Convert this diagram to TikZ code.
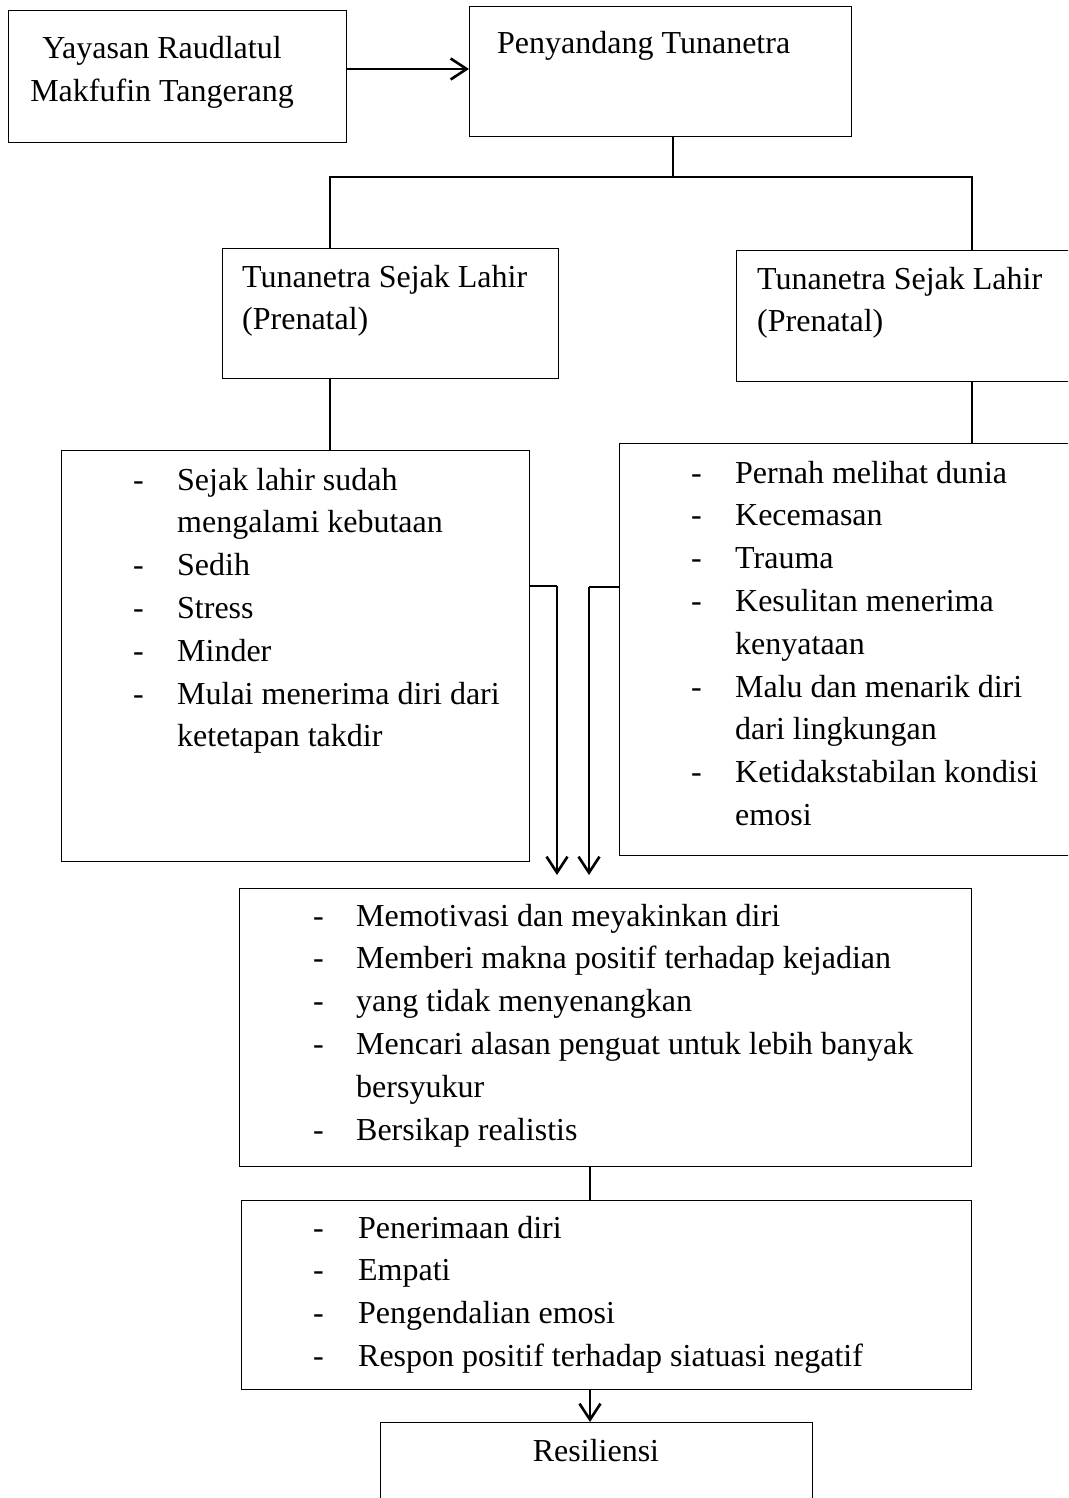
\documentclass[tikz,border=0pt]{standalone}
\usepackage{fontspec}
\setmainfont{Liberation Serif}
\usetikzlibrary{arrows.meta}

\tikzset{
  box/.style={draw, line width=1.3pt, anchor=north west, inner sep=0pt},
  txt/.style={inner sep=0pt, font=\fontsize{32}{42.8}\selectfont},
  link/.style={line width=1.6pt},
  arr/.style={line width=2.6pt, -{Straight Barb[length=16pt,width=21pt,line width=2.6pt]}}
}

\begin{document}
\begin{tikzpicture}[x=1pt,y=-1pt]
    \clip (0,0) rectangle (1068,1498);
    % boxes
    \node[box, minimum width=338, minimum height=132] (b1) at (8,10) {};
    \node[box, minimum width=382, minimum height=130] (b2) at (469,6) {};
    \node[box, minimum width=336, minimum height=130] (b3) at (222,248) {};
    \node[box, minimum width=364, minimum height=131] (b4) at (736,250) {};
    \node[box, minimum width=468, minimum height=411] (b5) at (61,450) {};
    \node[box, minimum width=481, minimum height=412] (b6) at (619,443) {};
    \node[box, minimum width=732, minimum height=278] (b7) at (239,888) {};
    \node[box, minimum width=730, minimum height=189] (b8) at (241,1200) {};
    \node[box, minimum width=432, minimum height=140] (b9) at (380,1422) {};

    % texts
    \node[txt, anchor=base] (t1) at (162,59) {\begin{tabular}[t]{@{}c@{}}Yayasan Raudlatul\\Makfufin Tangerang\end{tabular}};
    \node[txt, anchor=base west] (t2) at (497,54) {Penyandang Tunanetra};
    \node[txt, anchor=base west] (t3) at (242,287) {\begin{tabular}[t]{@{}l@{}}Tunanetra Sejak Lahir\\(Prenatal)\end{tabular}};
    \node[txt, anchor=base west] (t4) at (757,289) {\begin{tabular}[t]{@{}l@{}}Tunanetra Sejak Lahir\\(Prenatal)\end{tabular}};
    \node[txt, anchor=base west] (t5) at (133,490) {\begin{tabular}[t]{@{}p{44pt}@{}l@{}}
        - & Sejak lahir sudah\\
          & mengalami kebutaan\\
        - & Sedih\\
        - & Stress\\
        - & Minder\\
        - & Mulai menerima diri dari\\
          & ketetapan takdir
    \end{tabular}};
    \node[txt, anchor=base west] (t6) at (691,483) {\begin{tabular}[t]{@{}p{44pt}@{}l@{}}
        - & Pernah melihat dunia\\
        - & Kecemasan\\
        - & Trauma\\
        - & Kesulitan menerima\\
          & kenyataan\\
        - & Malu dan menarik diri\\
          & dari lingkungan\\
        - & Ketidakstabilan kondisi\\
          & emosi
    \end{tabular}};
    \node[txt, anchor=base west] (t7) at (313,926) {\begin{tabular}[t]{@{}p{43pt}@{}l@{}}
        - & Memotivasi dan meyakinkan diri\\
        - & Memberi makna positif terhadap kejadian\\
        - & yang tidak menyenangkan\\
        - & Mencari alasan penguat untuk lebih banyak\\
          & bersyukur\\
        - & Bersikap realistis
    \end{tabular}};
    \node[txt, anchor=base west] (t8) at (313,1238) {\begin{tabular}[t]{@{}p{45pt}@{}l@{}}
        - & Penerimaan diri\\
        - & Empati\\
        - & Pengendalian emosi\\
        - & Respon positif terhadap siatuasi negatif
    \end{tabular}};
    \node[txt, anchor=base] (t9) at (596,1461) {Resiliensi};

    % connectors
    \draw[arr] (b1.east |- 0,69) -- (b2.west |- 0,69);
    \draw[link] (b2.south -| 673,0) -- (673,177) coordinate (fork);
    \draw[link] (b3.north -| 330,0) |- (fork) -| (b4.north -| 972,0);
    \draw[link] (b3.south -| 330,0) -- (b5.north -| 330,0);
    \draw[link] (b4.south -| 972,0) -- (b6.north -| 972,0);
    \coordinate (m1) at (557,586);
    \coordinate (m2) at (589,587);
    \draw[link] (b5.east |- m1) -- (m1);
    \draw[link] (b6.west |- m2) -- (m2);
    \draw[arr] (m1) -- (557,875);
    \draw[arr] (m2) -- (589,875);
    \draw[link] (b7.south -| 590,0) -- (b8.north -| 590,0);
    \draw[arr] (b8.south -| 590,0) -- (b9.north -| 590,0);
\end{tikzpicture}
\end{document}
